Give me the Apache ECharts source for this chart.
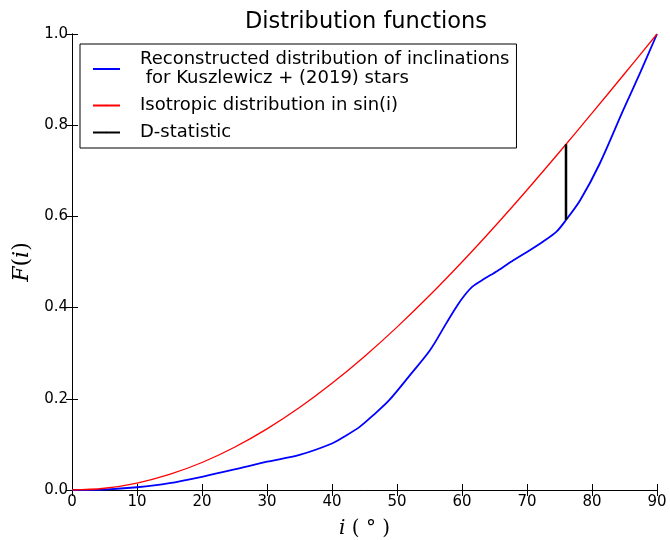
<!DOCTYPE html>
<html>
<head>
<meta charset="utf-8">
<script src="https://cdn.jsdelivr.net/npm/echarts@6/dist/echarts.min.js"></script>
<style>
  html, body { margin: 0; padding: 0; background: #fff; }
  #chart { width: 670px; height: 540px; }
</style>
</head>
<body>
<div id="chart"></div>
<script>
// Inclination angle (degrees) and cumulative distribution values
var reconstructedI = [0, 5, 10, 15, 20, 25, 30, 35, 40, 42, 44.3, 46.5, 48.8, 52, 55.1, 57.6, 59.2, 60.4, 61.6, 63.3, 65.5, 67.9, 70, 72.5, 74.5, 76, 78.2, 81.2, 84.8, 87.5, 90];
var reconstructedF = [0, 0.001, 0.006, 0.015, 0.029, 0.045, 0.062, 0.077, 0.102, 0.118, 0.139, 0.166, 0.197, 0.252, 0.307, 0.366, 0.403, 0.427, 0.446, 0.462, 0.481, 0.504, 0.522, 0.545, 0.566, 0.592, 0.636, 0.716, 0.833, 0.918, 1.0];

var isotropicI = [0, 5, 10, 15, 20, 25, 30, 35, 40, 45, 50, 55, 60, 65, 70, 75, 80, 85, 90];
var isotropicF = [0, 0.0038, 0.0152, 0.0341, 0.0603, 0.0937, 0.1340, 0.1808, 0.2340, 0.2929, 0.3572, 0.4264, 0.5, 0.5774, 0.6580, 0.7412, 0.8264, 0.9128, 1.0];

// Location and end points of the largest gap between the two curves
var dStatI = 76;
var dStatF = [0.592, 0.758];

var seriesNames = [
  'Reconstructed distribution of inclinations\n for Kuszlewicz + (2019) stars',
  'Isotropic distribution in sin(i)',
  'D-statistic'
];

function pairs(xs, ys) {
  return xs.map(function (x, k) { return [x, ys[k]]; });
}

var chart = echarts.init(document.getElementById('chart'));
var font = 'DejaVu Sans';
var axisLine = { show: true, lineStyle: { color: '#000', width: 1 } };
var tick = { show: true, inside: true, length: 6, lineStyle: { color: '#000' } };

chart.setOption({
  backgroundColor: '#fff',
  animation: false,
  title: {
    text: 'Distribution functions',
    left: 361, top: 6, textAlign: 'center',
    textStyle: { fontFamily: font, fontSize: 22.5, fontWeight: 'normal', color: '#000' }
  },
  grid: { left: 72, right: 13, top: 34, bottom: 50, outerBoundsMode: 'none', containLabel: false },
  legend: {
    orient: 'vertical',
    left: 80, top: 44,
    padding: [6, 7, 6, 12],
    borderColor: '#000', borderWidth: 1,
    itemWidth: 27, itemHeight: 2, itemGap: 8,
    data: seriesNames,
    textStyle: { fontFamily: font, fontSize: 18, color: '#000', lineHeight: 19, padding: [0, 0, 0, 15] },
    selectedMode: false
  },
  xAxis: [{
    type: 'value', min: 0, max: 90, interval: 10,
    axisLine: axisLine, axisTick: tick, splitLine: { show: false },
    axisLabel: { fontFamily: font, fontSize: 15, color: '#000', margin: 5 },
    name: '{it|i} ( \u00b0 )',
    nameLocation: 'middle', nameGap: 29,
    nameTextStyle: {
      fontFamily: 'DejaVu Serif', fontSize: 20, color: '#000',
      rich: { it: { fontFamily: 'DejaVu Serif', fontStyle: 'italic', fontSize: 20 } }
    }
  }, {
    type: 'value', min: 0, max: 90, interval: 10, position: 'top',
    axisLine: axisLine, axisTick: tick, axisLabel: { show: false }, splitLine: { show: false }
  }],
  yAxis: [{
    type: 'value', min: 0, max: 1, interval: 0.2,
    axisLine: axisLine, axisTick: tick, splitLine: { show: false },
    axisLabel: {
      fontFamily: font, fontSize: 15, color: '#000', margin: 4,
      formatter: function (v) { return v.toFixed(1); }
    },
    name: '{it|F}({it|i})',
    nameLocation: 'middle', nameGap: 38, nameRotate: 90,
    nameTextStyle: {
      fontFamily: 'DejaVu Serif', fontSize: 22, color: '#000',
      rich: { it: { fontFamily: 'DejaVu Serif', fontStyle: 'italic', fontSize: 22 } }
    }
  }, {
    type: 'value', min: 0, max: 1, interval: 0.2, position: 'right',
    axisLine: axisLine, axisTick: tick, axisLabel: { show: false }, splitLine: { show: false }
  }],
  series: [{
    name: seriesNames[0], type: 'line', symbol: 'none', smooth: 0.3,
    data: pairs(reconstructedI, reconstructedF),
    lineStyle: { color: '#0000ff', width: 1.8 }, itemStyle: { color: '#0000ff' }
  }, {
    name: seriesNames[1], type: 'line', symbol: 'none', smooth: 0.4,
    data: pairs(isotropicI, isotropicF),
    lineStyle: { color: '#ff0000', width: 1.3 }, itemStyle: { color: '#ff0000' }
  }, {
    name: seriesNames[2], type: 'line', symbol: 'none',
    data: [[dStatI, dStatF[0]], [dStatI, dStatF[1]]],
    lineStyle: { color: '#000', width: 2.5 }, itemStyle: { color: '#000' }
  }]
});
</script>
</body>
</html>
